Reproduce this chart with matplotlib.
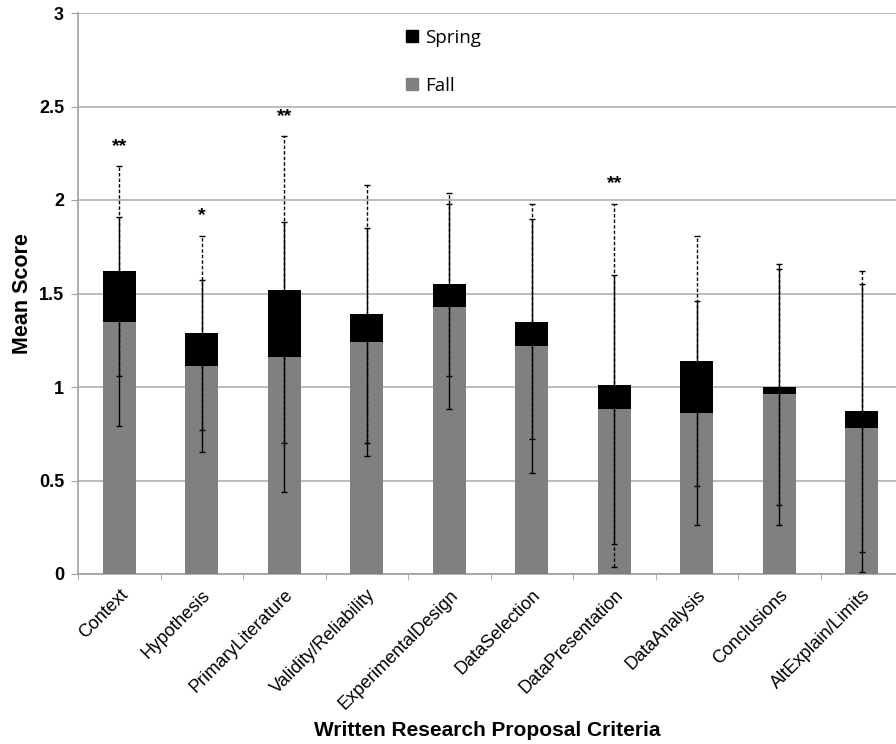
import matplotlib
matplotlib.use("Agg")
import matplotlib.pyplot as plt
from matplotlib.lines import Line2D
import numpy as np

categories = ["Context", "Hypothesis", "PrimaryLiterature", "Validity/Reliability",
              "ExperimentalDesign", "DataSelection", "DataPresentation", "DataAnalysis",
              "Conclusions", "AltExplain/Limits"]
spring_mean = [1.62, 1.29, 1.52, 1.39, 1.55, 1.35, 1.01, 1.14, 1.00, 0.87]
spring_sd = [0.56, 0.52, 0.82, 0.69, 0.49, 0.63, 0.97, 0.67, 0.63, 0.75]
fall_mean = [1.35, 1.11, 1.16, 1.24, 1.43, 1.22, 0.88, 0.86, 0.96, 0.78]
fall_sd = [0.56, 0.46, 0.72, 0.61, 0.55, 0.68, 0.72, 0.60, 0.70, 0.77]
significance = ["**", "*", "**", "", "", "", "**", "", "", ""]
yticks = [0, 0.5, 1, 1.5, 2, 2.5, 3]
ytick_labels = ["0", "0.5", "1", "1.5", "2", "2.5", "3"]

plt.rcParams['font.family'] = ['Liberation Sans', 'DejaVu Sans']

fig = plt.figure(figsize=(8.96, 7.44), dpi=100)
ax = fig.add_axes([78/896, 1-574/744, 825/896, (574-13)/744])

x = np.arange(len(categories))
w = 0.4
ax.bar(x, spring_mean, width=w, color="black", zorder=2, label="Spring")
ax.bar(x, fall_mean, width=w, color="#808080", zorder=3, label="Fall")

# Spring error bars (dashed)
eb_s = ax.errorbar(x, spring_mean, yerr=spring_sd, fmt="none", ecolor="black",
                   elinewidth=1.0, capsize=2.5, capthick=1.0, zorder=4)
eb_s[2][0].set_linestyle((0, (2.5, 1.5)))
# Fall error bars (solid)
ax.errorbar(x, fall_mean, yerr=fall_sd, fmt="none", ecolor="black",
            elinewidth=1.0, capsize=2.5, capthick=1.0, zorder=5)

for i, s in enumerate(significance):
    if s:
        top = spring_mean[i] + spring_sd[i]
        ax.text(x[i], top + 0.06, s, ha="center", va="bottom", fontsize=14,
                fontweight="bold", zorder=6)

ax.set_xlim(-0.5, len(categories) - 0.5)
ax.set_ylim(0, 3)
ax.set_yticks(yticks)
ax.set_yticklabels(ytick_labels, fontsize=13, fontweight="bold")
ax.yaxis.grid(True, color="#b0b0b0", linewidth=1.2, zorder=0)
ax.set_axisbelow(True)

ax.set_xticks(x)
ax.set_xticklabels(categories, rotation=45, ha="right", rotation_mode="anchor",
                   fontsize=13)
ax.set_xticks(np.arange(len(categories) + 1) - 0.5, minor=True)
ax.tick_params(axis="x", which="major", length=0, pad=9)
ax.tick_params(axis="x", which="minor", length=4, color="#a0a0a0", direction="out")
ax.tick_params(axis="y", length=5, color="#a0a0a0", pad=5)

for side in ["top", "right"]:
    ax.spines[side].set_visible(False)
for side in ["left", "bottom"]:
    ax.spines[side].set_color("#a0a0a0")
    ax.spines[side].set_linewidth(1.2)

ax.set_ylabel("Mean Score", fontsize=15.5, fontweight="bold", labelpad=4)
fig.text(487/896, 1-730/744, "Written Research Proposal Criteria", ha="center",
         va="center", fontsize=15, fontweight="bold")

handles = [Line2D([0], [0], marker="s", linestyle="none", markersize=9,
                  markerfacecolor="black", markeredgecolor="black"),
           Line2D([0], [0], marker="s", linestyle="none", markersize=9,
                  markerfacecolor="#808080", markeredgecolor="#808080")]
leg = ax.legend(handles, ["Spring", "Fall"], loc="upper left",
                bbox_to_anchor=(308/825, 1 + 1/561), frameon=False,
                prop={"family": ["Open Sans", "DejaVu Sans"], "size": 13.5},
                labelspacing=1.6, handletextpad=0.2, handlelength=1.0)
leg.set_zorder(10)

fig.savefig("out.png", dpi=100, facecolor="white")
